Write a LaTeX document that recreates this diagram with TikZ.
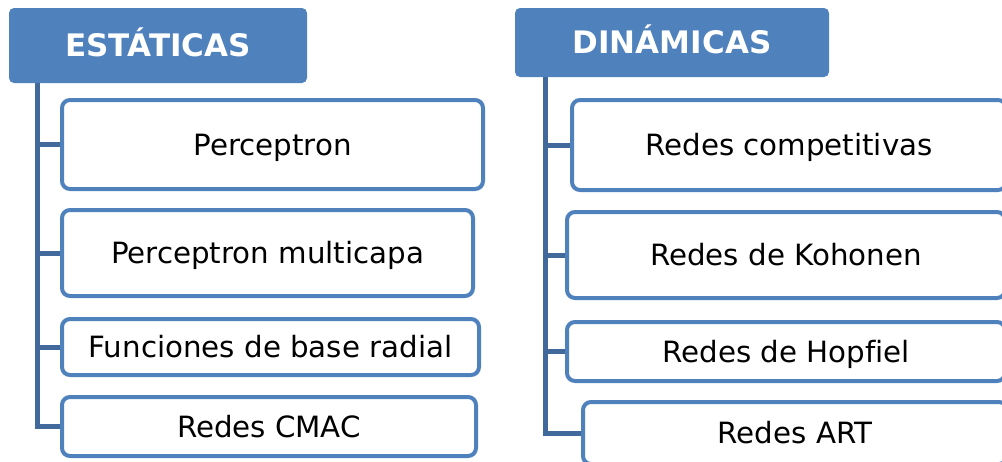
\documentclass[tikz,border=0pt]{standalone}
\usepackage{fontspec}
\setmainfont[Ligatures=NoCommon]{DejaVu Sans}
\definecolor{boxblue}{HTML}{4F81BD}
\definecolor{connblue}{HTML}{41699C}
\begin{document}
\begin{tikzpicture}[x=1pt,y=-1pt,
  head/.style={fill=boxblue, rounded corners=5pt, text=white, font=\fontsize{31}{36}\selectfont\bfseries, inner sep=0pt, outer sep=0pt, text height=22pt, text depth=0pt},
  item/.style={draw=boxblue, line width=4pt, fill=white, rounded corners=8pt, font=\fontsize{29.3}{34}\selectfont, inner sep=0pt, outer sep=0pt, text height=21pt, text depth=0pt},
  conn/.style={draw=connblue, line width=5pt}]
\useasboundingbox (0,0) rectangle (1002,461);
\clip (0,0) rectangle (1002,461);
% headers
\node[head, minimum width=298pt, minimum height=75pt] (Lh) at (158,45.5) {ESTÁTICAS};
\node[head, minimum width=314pt, minimum height=69pt] (Rh) at (672,42.5) {DINÁMICAS};
% trunk coordinates
\coordinate (Lt) at (37,83);
\coordinate (Rt) at (545,77);
% item positions
\coordinate (pL1) at (272.5,144.5);
\coordinate (pL2) at (267.5,253);
\coordinate (pL3) at (270.5,347);
\coordinate (pL4) at (269,426.5);
\coordinate (pR1) at (789,145);
\coordinate (pR2) at (786,255);
\coordinate (pR3) at (786,351.5);
\coordinate (pR4) at (795,433);
% connectors first (boxes drawn on top)
\draw[conn] (Lt) -- (Lt |- pL4) -- (pL4);
\draw[conn] (Lt |- pL1) -- (pL1);
\draw[conn] (Lt |- pL2) -- (pL2);
\draw[conn] (Lt |- pL3) -- (pL3);
\draw[conn] (Rt) -- (Rt |- pR4) -- (pR4);
\draw[conn] (Rt |- pR1) -- (pR1);
\draw[conn] (Rt |- pR2) -- (pR2);
\draw[conn] (Rt |- pR3) -- (pR3);
% left items
\node[item, minimum width=421pt, minimum height=89pt] (L1) at (pL1) {Perceptron};
\node[item, minimum width=411pt, minimum height=86pt] (L2) at (pL2) {Perceptron multicapa};
\node[item, minimum width=417pt, minimum height=56pt] (L3) at (pL3) {Funciones de base radial};
\node[item, minimum width=414pt, minimum height=59pt] (L4) at (pL4) {Redes CMAC};
% right items
\node[item, minimum width=434pt, minimum height=90pt] (R1) at (pR1) {Redes competitivas};
\node[item, minimum width=438pt, minimum height=86pt] (R2) at (pR2) {Redes de Kohonen};
\node[item, minimum width=438pt, minimum height=59pt] (R3) at (pR3) {Redes de Hopfiel};
\node[item, minimum width=424pt, minimum height=62pt] (R4) at (pR4) {Redes ART};
\end{tikzpicture}
\end{document}
